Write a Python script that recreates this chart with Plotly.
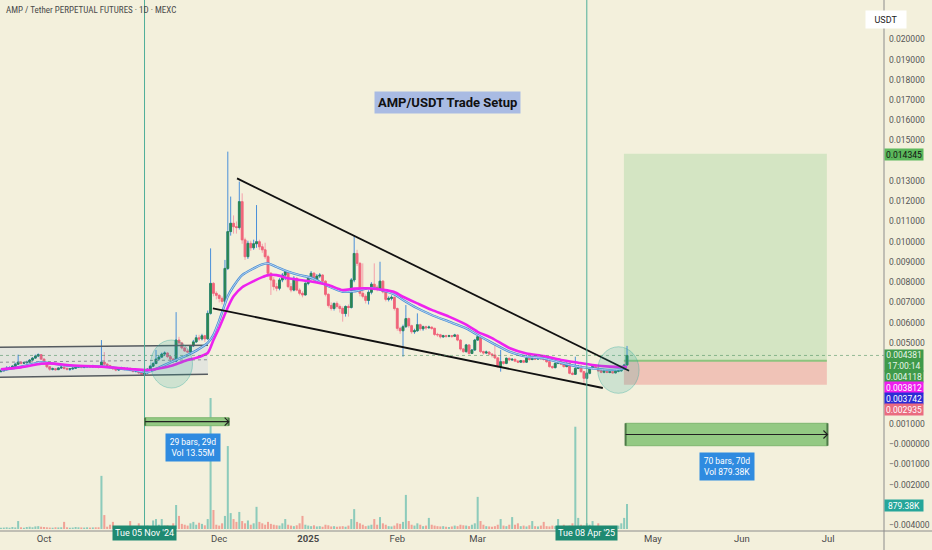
import plotly.graph_objects as go
import pandas as pd

# ---------------- data (prices in thousandths of USDT) ----------------
FIRST_DATE = "2024-09-16"
FIRST_OPEN = 3.58
CLOSE = [
    3.62, 3.68, 3.75, 3.78, 3.85, 3.95, 4.05, 4.00, 4.02, 4.05,
    4.15, 4.25, 4.35, 4.42, 4.20, 3.98, 3.82, 3.70, 3.72, 3.68,
    3.76, 3.80, 3.74, 3.70, 3.72, 3.75, 3.80, 3.84, 3.80, 3.82,
    3.85, 3.82, 3.86, 3.82, 3.80, 4.05, 3.95, 3.88, 3.80, 3.72,
    3.66, 3.72, 3.76, 3.70, 3.74, 3.66, 3.60, 3.62, 3.52, 3.45,
    3.52, 3.70, 3.85, 3.98, 4.20, 4.30, 4.45, 4.50, 4.32, 4.20,
    4.10, 5.14, 5.00, 4.75, 4.60, 4.55, 4.85, 5.05, 5.25, 5.20,
    5.35, 5.20, 6.46, 7.94, 7.45, 7.35, 7.20, 7.05, 8.68, 10.50,
    10.91, 10.74, 10.70, 11.98, 10.09, 9.26, 9.92, 9.70, 9.90, 10.00,
    9.75, 9.60, 9.26, 8.44, 8.11, 7.78, 7.70, 8.11, 8.35, 8.52,
    7.78, 7.61, 8.19, 7.61, 7.45, 7.37, 7.94, 8.19, 8.44, 8.11,
    8.30, 8.35, 8.05, 7.40, 6.85, 6.70, 6.95, 6.80, 6.70, 6.45,
    6.80, 6.75, 8.11, 9.42, 8.93, 7.45, 7.30, 7.10, 7.50, 7.90,
    7.75, 7.65, 8.05, 7.52, 7.15, 7.20, 7.25, 6.70, 5.72, 5.60,
    5.80, 6.20, 5.85, 5.55, 5.60, 5.90, 5.70, 5.80, 5.75, 5.78,
    5.72, 5.42, 5.40, 5.30, 5.35, 5.33, 5.35, 5.33, 5.39, 5.14,
    4.70, 4.57, 4.90, 4.48, 4.65, 5.14, 5.31, 4.57, 4.50, 4.55,
    4.45, 4.40, 4.26, 3.83, 4.07, 3.99, 4.24, 4.16, 4.19, 4.10,
    4.05, 4.12, 4.05, 4.24, 4.18, 4.22, 4.20, 4.26, 4.22, 4.18,
    4.07, 3.83, 3.78, 3.99, 4.07, 3.95, 3.83, 3.99, 3.50, 3.45,
    3.74, 3.85, 3.58, 3.25, 3.50, 3.74, 3.83, 3.76, 3.62, 3.55,
    3.60, 3.54, 3.58, 3.52, 3.60, 3.62, 3.74, 3.91, 4.381,
]
HIGH = [
    3.70, 3.72, 3.85, 3.84, 3.90, 4.02, 4.42, 4.10, 4.08, 4.12,
    4.20, 4.30, 4.42, 4.48, 4.45, 4.22, 4.00, 3.86, 3.78, 3.76,
    3.80, 3.86, 3.84, 3.78, 3.76, 3.80, 3.86, 3.90, 3.88, 3.86,
    3.90, 3.88, 3.92, 3.90, 3.86, 5.14, 4.55, 4.00, 3.92, 3.84,
    3.76, 3.78, 3.82, 3.80, 3.78, 3.78, 3.70, 3.68, 3.64, 3.56,
    3.58, 3.75, 3.90, 4.05, 4.65, 4.40, 4.52, 4.58, 4.55, 4.38,
    4.25, 6.52, 5.30, 5.05, 4.80, 4.70, 4.90, 5.15, 5.40, 5.40,
    5.45, 5.40, 6.60, 9.67, 8.00, 7.55, 7.40, 7.30, 9.10, 14.45,
    12.23, 11.30, 11.00, 12.97, 12.39, 10.20, 10.05, 10.05, 10.10, 11.81,
    10.10, 9.90, 9.95, 9.35, 8.50, 8.25, 7.95, 8.20, 8.45, 8.60,
    8.55, 7.95, 8.30, 8.25, 7.70, 7.55, 8.00, 8.25, 8.55, 8.50,
    8.40, 8.45, 8.40, 8.10, 7.45, 7.00, 7.00, 7.05, 6.90, 6.80,
    6.85, 6.90, 8.20, 10.33, 9.60, 9.00, 8.93, 7.40, 7.60, 8.00,
    8.93, 7.85, 9.01, 8.10, 7.55, 7.30, 7.35, 7.30, 6.75, 5.80,
    5.90, 6.87, 6.25, 5.90, 5.70, 6.46, 5.95, 5.85, 5.85, 5.85,
    5.80, 5.75, 5.50, 5.45, 5.40, 5.40, 5.40, 5.38, 5.45, 5.42,
    5.18, 4.75, 4.95, 4.92, 4.70, 5.20, 5.39, 5.35, 4.62, 4.62,
    4.58, 4.48, 4.98, 4.30, 4.65, 4.10, 4.28, 4.26, 4.24, 4.22,
    4.14, 4.16, 4.14, 4.40, 4.26, 4.26, 4.25, 4.30, 4.28, 4.24,
    4.20, 4.10, 3.88, 4.04, 4.12, 4.10, 3.98, 4.04, 4.02, 3.58,
    4.32, 3.90, 3.88, 3.62, 3.55, 3.78, 3.88, 3.86, 3.80, 3.66,
    3.64, 3.63, 3.62, 3.60, 3.64, 3.66, 3.78, 3.96, 4.85,
]
LOW = [
    3.55, 3.60, 3.64, 3.70, 3.74, 3.82, 3.92, 3.94, 3.95, 3.98,
    4.00, 4.12, 4.22, 4.30, 4.15, 3.92, 3.75, 3.62, 3.64, 3.62,
    3.66, 3.72, 3.68, 3.64, 3.62, 3.66, 3.72, 3.76, 3.74, 3.75,
    3.78, 3.76, 3.78, 3.76, 3.74, 3.78, 3.88, 3.82, 3.72, 3.66,
    3.60, 3.62, 3.68, 3.64, 3.66, 3.60, 3.54, 3.54, 3.46, 3.40,
    3.38, 3.48, 3.66, 3.82, 3.95, 4.12, 4.25, 4.35, 4.25, 4.10,
    4.00, 4.05, 4.85, 4.68, 4.55, 4.50, 4.50, 4.80, 5.00, 5.10,
    5.12, 5.05, 5.15, 6.40, 7.30, 7.15, 7.00, 6.90, 6.96, 8.60,
    10.30, 10.40, 10.40, 10.60, 9.90, 9.10, 9.15, 9.55, 9.60, 9.70,
    9.60, 9.45, 9.15, 8.27, 7.37, 7.60, 7.55, 7.60, 8.00, 8.10,
    7.70, 7.50, 7.55, 7.55, 7.35, 7.25, 7.35, 7.85, 8.10, 8.00,
    8.05, 8.20, 8.00, 7.30, 6.75, 6.60, 6.60, 6.70, 6.50, 6.05,
    6.30, 6.30, 6.70, 8.00, 8.80, 7.30, 7.20, 6.95, 6.90, 7.40,
    7.60, 7.55, 7.60, 7.45, 7.05, 7.05, 7.10, 6.60, 5.60, 5.45,
    4.32, 5.75, 5.75, 5.45, 5.45, 5.55, 5.60, 5.60, 5.65, 5.70,
    5.65, 5.35, 5.30, 5.22, 5.25, 5.25, 5.28, 5.25, 5.30, 5.08,
    4.62, 4.50, 4.52, 4.42, 4.45, 4.60, 5.10, 4.50, 4.42, 4.45,
    4.38, 4.28, 4.20, 3.78, 3.58, 3.92, 3.95, 4.10, 4.12, 4.05,
    4.00, 4.02, 4.00, 4.02, 4.12, 4.14, 4.15, 4.17, 4.18, 4.12,
    4.02, 3.78, 3.72, 3.74, 3.95, 3.90, 3.78, 3.80, 3.45, 3.40,
    3.42, 3.70, 3.52, 3.00, 3.20, 3.45, 3.70, 3.70, 3.58, 3.50,
    3.50, 3.50, 3.50, 3.48, 3.50, 3.55, 3.58, 3.70, 3.88,
]
VOLUME_K = [
    40, 50, 60, 45, 70, 55, 280, 60, 45, 70,
    80, 60, 90, 100, 80, 70, 60, 50, 45, 60,
    55, 60, 250, 60, 45, 50, 70, 60, 55, 50,
    60, 50, 55, 60, 60, 1870, 490, 80, 150, 250,
    90, 60, 70, 80, 60, 280, 90, 60, 200, 90,
    70, 120, 90, 300, 350, 150, 350, 120, 130, 100,
    200, 845, 460, 180, 150, 120, 200, 250, 150, 220,
    180, 130, 350, 4610, 670, 150, 120, 200, 460, 2920,
    560, 350, 250, 600, 280, 200, 300, 150, 200, 780,
    250, 200, 150, 250, 180, 150, 130, 120, 200, 350,
    150, 120, 100, 130, 200, 460, 150, 120, 100, 130,
    90, 100, 80, 150, 130, 90, 100, 80, 90, 100,
    80, 120, 350, 700, 250, 200, 150, 100, 120, 150,
    350, 150, 420, 200, 150, 100, 90, 120, 200, 180,
    250, 1200, 280, 150, 120, 200, 150, 100, 120, 390,
    150, 120, 100, 90, 100, 80, 70, 90, 120, 100,
    150, 130, 120, 100, 150, 200, 1130, 280, 150, 100,
    90, 80, 100, 150, 350, 120, 100, 150, 420, 150,
    200, 100, 120, 90, 130, 280, 100, 90, 120, 250,
    100, 90, 120, 100, 350, 100, 150, 100, 120, 200,
    3600, 390, 150, 120, 200, 150, 280, 100, 200, 90,
    80, 70, 90, 80, 100, 120, 200, 390, 879.38,
]

# moving averages (bar index -> value, thousandths of USDT)
MA_IDX = [0, 7, 14, 17, 23, 29, 35, 40, 46, 51, 55, 60, 65, 68, 72, 74, 76, 79, 81,
          84, 88, 91, 93, 96, 100, 104, 108, 114, 119, 123, 129, 137, 140, 145, 150,
          156, 162, 166, 171, 177, 183, 189, 195, 201, 206, 212, 218]
MA_SLOW = [3.70, 3.79, 3.97, 3.99, 3.91, 3.86, 3.82, 3.77, 3.70, 3.66, 3.74, 3.90,
           4.15, 4.26, 4.50, 5.14, 5.75, 6.75, 7.30, 7.75, 8.05, 8.25, 8.35, 8.35,
           8.19, 8.11, 8.03, 7.86, 7.61, 7.68, 7.69, 7.52, 7.28, 6.95, 6.63, 6.30,
           5.90, 5.55, 5.24, 4.75, 4.48, 4.35, 4.16, 4.02, 3.91, 3.83, 3.812]
MA_FAST = [3.66, 3.82, 4.05, 4.00, 3.88, 3.84, 3.85, 3.76, 3.66, 3.55, 3.78, 4.10,
           4.40, 4.62, 5.00, 5.40, 6.10, 7.30, 7.80, 8.35, 8.68, 8.88, 8.93, 8.75,
           8.52, 8.35, 8.22, 7.80, 7.53, 7.55, 7.72, 7.40, 7.12, 6.71, 6.38, 6.05,
           5.72, 5.39, 5.00, 4.57, 4.32, 4.24, 4.02, 3.83, 3.74, 3.66, 3.742]

X_TICK_DATES = ["2024-10-01", "2024-12-01", "2025-01-01", "2025-02-01",
                "2025-03-01", "2025-05-01", "2025-06-01", "2025-07-01"]
X_TICK_TEXT = ["Oct", "Dec", "<b>2025</b>", "Feb", "Mar", "May", "Jun", "Jul"]
Y_TICK_LABELS = ["0.020000", "0.019000", "0.018000", "0.017000", "0.016000",
                 "0.015000", "0.013000", "0.012000", "0.011000",
                 "0.010000", "0.009000", "0.008000", "0.007000", "0.006000",
                 "0.005000", "0.001000", "\u22120.000000", "\u22120.001000",
                 "\u22120.002000", "\u22120.004000"]

TITLE = "AMP / Tether PERPETUAL FUTURES \u00b7 1D \u00b7 MEXC"
SETUP_TITLE = "AMP/USDT Trade Setup"
ENTRY = 0.004118
TARGET = 0.014345
STOP = 0.002935
LAST_PRICE = 0.004381
COUNTDOWN = "17:00:14"
MA_SLOW_LABEL = 0.003812
MA_FAST_LABEL = 0.003742
LAST_VOLUME_LABEL = "879.38K"
MARKER_DATES = ["2024-11-05", "2025-04-08"]
MARKER_TEXT = ["Tue 05 Nov '24", "Tue 08 Apr '25"]

WEDGE_UPPER_X = ["2024-12-07 05:00", "2025-04-22 17:00"]
WEDGE_UPPER_Y = [0.013130, 0.003626]
WEDGE_LOWER_X = ["2024-11-28 19:00", "2025-04-13 14:00"]
WEDGE_LOWER_Y = [0.006710, 0.002772]
CHANNEL_X = ["2024-09-15 16:00", "2024-11-27 02:00"]
CHANNEL_TOP = [0.004790, 0.004885]
CHANNEL_BOT = [0.003300, 0.003450]
CIRCLES = [  # x0, x1, y0, y1
    ("2024-11-07 02:00", "2024-11-21 17:00", 0.002770, 0.005143),
    ("2025-04-11 19:00", "2025-04-26 05:00", 0.002510, 0.004810),
]
LONG_X = ["2025-04-20 22:00", "2025-06-30 14:00"]
MEASURES = [  # x0, x1, y0, y1, label, label_x, label_y
    ("2024-11-05 05:00", "2024-12-04 07:00", 0.000910, 0.001304,
     "29 bars, 29d<br>Vol 13.55M", "2024-11-21 19:00", -0.000143),
    ("2025-04-21 12:00", "2025-06-30 19:00", -0.000079, 0.001028,
     "70 bars, 70d<br>Vol 879.38K", "2025-05-26 17:00", -0.001120),
]

# ---------------- derived ----------------
S = 0.001
dates = pd.date_range(FIRST_DATE, periods=len(CLOSE), freq="D")
close = [c * S for c in CLOSE]
high = [h * S for h in HIGH]
low = [l * S for l in LOW]
opens = [FIRST_OPEN * S] + close[:-1]
body_hi = [max(o, c) for o, c in zip(opens, close)]
body_lo = [min(o, c) for o, c in zip(opens, close)]
ma_dates = [dates[i] for i in MA_IDX]

PW, PH = 884, 531          # plot area in px
DAY_PX = 2.872
x_start = pd.Timestamp(FIRST_DATE) - pd.Timedelta(days=0.92 / DAY_PX)
x_end = x_start + pd.Timedelta(days=PW / DAY_PX)
Y_LO, Y_HI = -0.004293, 0.021942
VOL_PER_PX = 35.2
V_LO, V_HI = -2 * VOL_PER_PX, (PH - 2) * VOL_PER_PX


def px(x):
    return x / PW


def py(y):
    return 1 - y / PH


BG = "#f3f0dc"
FONT = "Roboto, Liberation Sans, sans-serif"
NARROW = "Liberation Sans Narrow, Roboto Condensed, DejaVu Sans Condensed, Roboto, sans-serif"

fig = go.Figure()

# channel
fig.add_trace(go.Scatter(x=CHANNEL_X + CHANNEL_X[::-1], y=CHANNEL_TOP + CHANNEL_BOT[::-1],
                         fill="toself", fillcolor="rgba(41,98,255,0.08)", mode="lines",
                         line=dict(width=0), hoverinfo="skip", showlegend=False))
for ys in (CHANNEL_TOP, CHANNEL_BOT):
    fig.add_trace(go.Scatter(x=CHANNEL_X, y=ys, mode="lines",
                             line=dict(color="#555b60", width=1.5),
                             hoverinfo="skip", showlegend=False))
fig.add_trace(go.Scatter(x=CHANNEL_X, y=[(a + b) / 2 for a, b in zip(CHANNEL_TOP, CHANNEL_BOT)],
                         mode="lines", line=dict(color="#8a8f93", width=1, dash="dot"),
                         hoverinfo="skip", showlegend=False))

# volume
vol_colors = ["rgba(38,166,154,0.5)" if c >= o else "rgba(239,83,80,0.5)"
              for o, c in zip(opens, close)]
fig.add_trace(go.Bar(x=dates, y=VOLUME_K, marker=dict(color=vol_colors, line=dict(width=0)),
                     width=0.7 * 86400000, yaxis="y2", hoverinfo="skip", showlegend=False))

# candles: wicks (blue / pink) then bodies (green / red)
fig.add_trace(go.Candlestick(
    x=dates, open=opens, high=high, low=low, close=close,
    increasing=dict(line=dict(color="#4a90d9", width=1), fillcolor="#4a90d9"),
    decreasing=dict(line=dict(color="#f5a0aa", width=1), fillcolor="#f5a0aa"),
    whiskerwidth=0, showlegend=False, hoverinfo="skip"))
fig.add_trace(go.Candlestick(
    x=dates, open=opens, high=body_hi, low=body_lo, close=close,
    increasing=dict(line=dict(color="#2b8750", width=0.8), fillcolor="#2b8750"),
    decreasing=dict(line=dict(color="#f0657a", width=0.8), fillcolor="#f0657a"),
    whiskerwidth=0, showlegend=False, hoverinfo="skip"))

# moving averages
fig.add_trace(go.Scatter(x=ma_dates, y=[v * S for v in MA_FAST], mode="lines",
                         line=dict(color="#4a8fd6", width=2.4, shape="spline", smoothing=0.6),
                         hoverinfo="skip", showlegend=False))
fig.add_trace(go.Scatter(x=ma_dates, y=[v * S for v in MA_FAST], mode="lines",
                         line=dict(color="#d6e6f5", width=0.8, shape="spline", smoothing=0.6),
                         hoverinfo="skip", showlegend=False))
fig.add_trace(go.Scatter(x=ma_dates, y=[v * S for v in MA_SLOW], mode="lines",
                         line=dict(color="#ee22ee", width=2.6, shape="spline", smoothing=0.6),
                         hoverinfo="skip", showlegend=False))

# wedge
for xs, ys in ((WEDGE_UPPER_X, WEDGE_UPPER_Y), (WEDGE_LOWER_X, WEDGE_LOWER_Y)):
    fig.add_trace(go.Scatter(x=xs, y=ys, mode="lines", line=dict(color="#111111", width=1.8),
                             hoverinfo="skip", showlegend=False))

shapes = []
shapes.append(dict(type="rect", xref="x", yref="y", x0=LONG_X[0], x1=LONG_X[1], y0=ENTRY, y1=TARGET,
                   fillcolor="#d4e5c3", line=dict(width=0), layer="below"))
shapes.append(dict(type="rect", xref="x", yref="y", x0=LONG_X[0], x1=LONG_X[1], y0=STOP, y1=ENTRY,
                   fillcolor="#f0c3b7", line=dict(width=0), layer="below"))
shapes.append(dict(type="line", xref="x", yref="y", x0=LONG_X[0], x1=LONG_X[1], y0=ENTRY, y1=ENTRY,
                   line=dict(color="#8cc47e", width=2), layer="below"))
shapes.append(dict(type="line", xref="paper", yref="y", x0=0, x1=1, y0=LAST_PRICE, y1=LAST_PRICE,
                   line=dict(color="rgba(70,140,90,0.55)", width=1, dash="dot")))
for d in MARKER_DATES:
    shapes.append(dict(type="line", xref="x", yref="paper", x0=d, x1=d, y0=0, y1=1,
                       line=dict(color="#4fae99", width=1)))
for x0, x1, y0, y1 in CIRCLES:
    shapes.append(dict(type="circle", xref="x", yref="y", x0=x0, x1=x1, y0=y0, y1=y1,
                       fillcolor="rgba(38,166,154,0.18)",
                       line=dict(color="rgba(38,166,154,0.35)", width=1)))
for x0, x1, y0, y1, _, _, _ in MEASURES:
    ym = (y0 + y1) / 2
    shapes.append(dict(type="rect", xref="x", yref="y", x0=x0, x1=x1, y0=y0, y1=y1,
                       fillcolor="#93c983", line=dict(color="#7fb770", width=1)))
    for xe in (x0, x1):
        shapes.append(dict(type="line", xref="x", yref="y", x0=xe, x1=xe, y0=y0, y1=y1,
                           line=dict(color="#4d7a47", width=2)))
    shapes.append(dict(type="line", xref="x", yref="y", x0=x0, x1=x1, y0=ym, y1=ym,
                       line=dict(color="#222222", width=1.2)))
    shapes.append(dict(type="path", xref="x", yref="y", xsizemode="pixel", ysizemode="pixel",
                       xanchor=x1, yanchor=ym, path="M -4 -4 L 0 0 L -4 4",
                       line=dict(color="#222222", width=1.2)))
shapes.append(dict(type="line", xref="paper", yref="paper", x0=0, x1=932 / PW, y0=0, y1=0,
                   line=dict(color="#8c8c8c", width=1)))
shapes.append(dict(type="line", xref="paper", yref="paper", x0=1, x1=1, y0=-19 / PH, y1=1,
                   line=dict(color="#8c8c8c", width=1)))

ann = []
ann.append(dict(text=TITLE, xref="paper", yref="paper", x=px(4), y=py(10), xanchor="left",
                yanchor="middle", showarrow=False, font=dict(size=9, color="#4a4a4a", family=NARROW)))
ann.append(dict(text="<b>" + SETUP_TITLE + "</b>", xref="paper", yref="paper", x=px(447),
                y=py(102.5), xanchor="center", yanchor="middle", showarrow=False,
                bgcolor="#a9bbe3", borderpad=3, font=dict(size=13, color="#111111", family=FONT)))
for _, _, _, _, label, lx, ly in MEASURES:
    ann.append(dict(text=label, xref="x", yref="y", x=lx, y=ly, showarrow=False,
                    bgcolor="#2f8be0", borderpad=3, width=48, align="center",
                    font=dict(size=8.5, color="white", family=FONT)))
for d, t in zip(MARKER_DATES, MARKER_TEXT):
    ann.append(dict(text=t, xref="x", yref="paper", x=d, y=py(540.5), showarrow=False,
                    bgcolor="#1e8a72", borderpad=2, font=dict(size=9, color="white", family=FONT)))

ann.append(dict(text="USDT", xref="paper", yref="paper", x=px(907.5), y=py(10), showarrow=False,
                bgcolor="white", width=38, height=15, font=dict(size=9, color="#222", family=FONT)))
right_labels = [
    (f"{TARGET:.6f}", 154.5, "#5cb85c", "#111111", 11),
    (f"{LAST_PRICE:.6f}<br>{COUNTDOWN}", 360.5, "#3f9a4a", "#e8f5e9", 21),
    (f"{ENTRY:.6f}", 376.5, "#3f9a4a", "#e8f5e9", 11),
    (f"{MA_SLOW_LABEL:.6f}", 387.3, "#ee1eee", "#ffffff", 11),
    (f"{MA_FAST_LABEL:.6f}", 398.3, "#2b2bd6", "#ffffff", 11),
    (f"{STOP:.6f}", 409.3, "#ea6b80", "#ffffff", 11),
    (LAST_VOLUME_LABEL, 505, "#26a69a", "#ffffff", 11),
]
for txt, yy, bg, fg, h in right_labels:
    ann.append(dict(text=txt, xref="paper", yref="paper", x=1, y=py(yy), xanchor="left",
                    yanchor="middle", showarrow=False, bgcolor=bg, width=38, height=h,
                    borderpad=0, font=dict(size=8.5, color=fg, family=FONT)))

fig.update_layout(
    width=932, height=550, margin=dict(l=0, r=48, t=0, b=19),
    paper_bgcolor=BG, plot_bgcolor=BG, showlegend=False,
    font=dict(family=FONT), boxgap=0.12,
    xaxis=dict(type="date", range=[x_start, x_end], showgrid=False, zeroline=False,
               tickvals=X_TICK_DATES, ticktext=X_TICK_TEXT, ticks="",
               tickfont=dict(size=9.5, color="#4a4a4a"), rangeslider=dict(visible=False),
               fixedrange=True),
    yaxis=dict(side="right", range=[Y_LO, Y_HI], showgrid=False, zeroline=False,
               tickvals=[float(t.replace("\u2212", "-")) for t in Y_TICK_LABELS],
               ticktext=Y_TICK_LABELS, ticks="", ticklabelstandoff=4,
               tickfont=dict(size=8.5, color="#555555"), fixedrange=True),
    yaxis2=dict(overlaying="y", range=[V_LO, V_HI], visible=False, fixedrange=True),
    shapes=shapes, annotations=ann,
)

fig.write_html("out.html", config={"displayModeBar": False},
               post_script="document.body.style.margin='0';document.body.style.overflow='hidden';")
